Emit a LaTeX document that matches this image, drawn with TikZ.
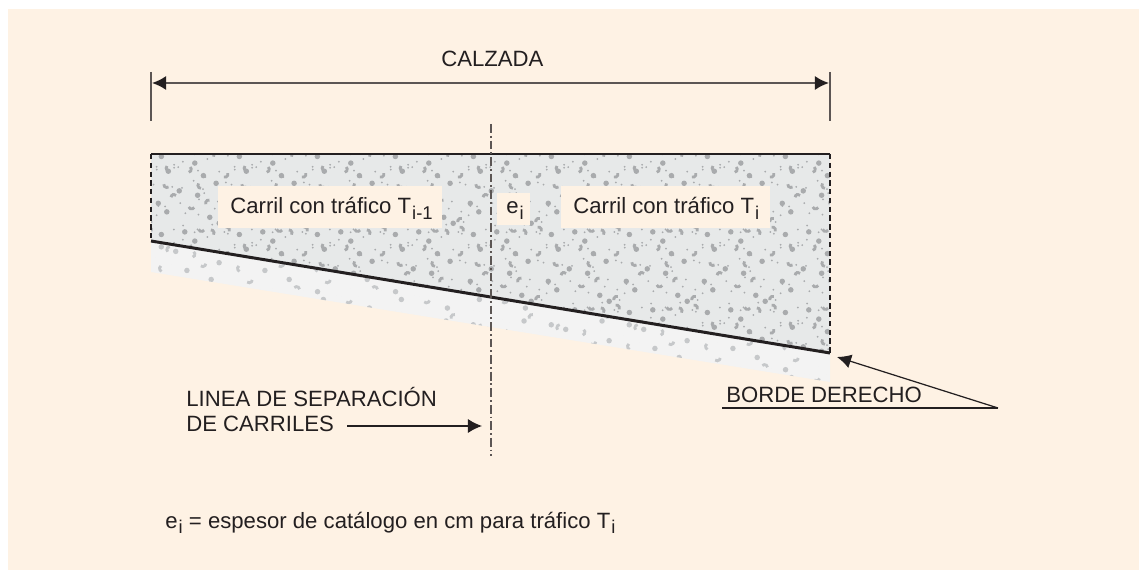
\documentclass[tikz,border=0pt]{standalone}
\usepackage{fontspec}
\setmainfont{Liberation Sans}
\usepackage{tikz}
\usetikzlibrary{arrows.meta}
\usetikzlibrary{positioning}

\definecolor{paper}{HTML}{FEF2E4}
\definecolor{ink}{HTML}{231F20}
\definecolor{dimline}{HTML}{5C5654}
\definecolor{baselayer}{HTML}{E7E9E9}
\definecolor{sublayer}{HTML}{F3F3F3}
\definecolor{stone}{HTML}{A9ABAD}
\definecolor{substone}{HTML}{C6C8CA}

\tikzset{
	label/.style={anchor=base west,inner sep=0pt,text=ink,font=\fontsize{12.6}{14}\selectfont},
	patch/.style={fill=paper,draw=none},
	sideline/.style={draw=ink,densely dashed,line width=0.6pt},
	thickline/.style={draw=ink,line width=1.7pt},
	dimstroke/.style={draw=dimline,line width=1.1pt}
}

% subscript of the labels
\newcommand{\lowsub}[1]{\kern0.6pt\raisebox{-3pt}{\fontsize{10.5}{10}\selectfont #1}}

% one tile of stones: #1 colour, #2 cell size, #3 last cell, #4 radius of small dots
\newcommand{\stonetile}[4]{
	\foreach \i in {0,...,#3}
	{
		\foreach \j in {0,...,#3}
		{
			\pgfmathsetmacro{\px}{(\i+rnd)*#2}
			\pgfmathsetmacro{\py}{(\j+rnd)*#2}
			\pgfmathsetmacro{\pa}{rnd*360}
			\pgfmathtruncatemacro{\kind}{mod(\i+2*\j,3)}
			\ifnum\kind=0
				\fill[#1] (\px,\py) circle [radius=0.055cm];
			\fi
			\ifnum\kind=1
				\draw[#1,line width=1.6pt] (\px,\py) arc [start angle=\pa,delta angle=130,radius=0.06cm];
			\fi
			\pgfmathsetmacro{\px}{(\i+rnd)*#2}
			\pgfmathsetmacro{\py}{(\j+rnd)*#2}
			\fill[#1] (\px,\py) circle [radius=#4];
		}
	}
}

\begin{document}
\begin{tikzpicture}[x=0.02cm,y=-0.02cm,every path/.style={>={Latex[length=8pt,width=8pt,color=ink]}}]
	\useasboundingbox (0,0) rectangle (1139,570);
	
	% draw background
	\fill[paper] (8,9) rectangle (1139,570);
	
	% draw lower layer
	\fill[sublayer] (151,241) -- (830,353) -- (830,382) -- (151,272) -- cycle;
	\begin{scope}
		\clip (151,241) -- (830,353) -- (830,382) -- (151,272) -- cycle;
		\foreach \x in {151,229,...,830}
		{
			\foreach \y in {232,310,388}
			{
				\begin{scope}[shift={(\x,\y)}]
					\pgfmathsetseed{11}
					\stonetile{substone}{15.6}{4}{0cm}
				\end{scope}
			}
		}
	\end{scope}
	
	% draw upper layer
	\fill[baselayer] (151,154) -- (830,154) -- (830,353) -- (151,241) -- cycle;
	\begin{scope}
		\clip (151,154) -- (830,154) -- (830,353) -- (151,241) -- cycle;
		\foreach \x in {151,229,...,830}
		{
			\foreach \y in {154,232,310}
			{
				\begin{scope}[shift={(\x,\y)}]
					\pgfmathsetseed{27}
					\stonetile{stone}{13}{5}{0.02cm}
				\end{scope}
			}
		}
	\end{scope}
	
	% corners of the road
	\coordinate (topleft) at (151,154);
	\coordinate (topright) at (830,154);
	\coordinate (lowleft) at (151,241);
	\coordinate (lowright) at (830,353);
	
	% draw edges
	\draw[sideline] (topleft) -- (lowleft);
	\draw[sideline] (topright) -- (lowright);
	\draw[thickline] (topleft) -- (topright);
	\draw[thickline] (lowleft) -- (lowright);
	
	% draw white patches with labels
	\node (patchleft) at (330,207) [patch,minimum width=4.48cm,minimum height=0.84cm] {};
	\node (patchmid) at (513.5,209) [patch,minimum width=0.66cm,minimum height=0.64cm] {};
	\node (patchright) at (665.5,207) [patch,minimum width=4.18cm,minimum height=0.84cm] {};
	\node (carrilleft) at (230,214) [label] {Carril con tráfico T\lowsub{i-1}};
	\node (espesor) at (506,214) [label] {e\lowsub{i}};
	\node (carrilright) at (573,214) [label] {Carril con tráfico T\lowsub{i}};
	
	% draw center line
	\coordinate (centertop) at (491,124);
	\coordinate (centerbottom) at (491,456);
	\draw[dimline,line width=0.7pt,dash pattern=on 5pt off 1.7pt on 1pt off 1.7pt] (centertop) -- (centerbottom);
	
	% draw width of the road
	\coordinate (tickleftup) at (151,72);
	\coordinate (tickleftdown) at (151,121);
	\coordinate (tickrightup) at (830,72);
	\coordinate (tickrightdown) at (830,121);
	\coordinate (dimleft) at (152,83);
	\coordinate (dimright) at (829,83);
	\draw[dimstroke] (tickleftup) -- (tickleftdown);
	\draw[dimstroke] (tickrightup) -- (tickrightdown);
	\draw[<->,dimstroke] (dimleft) -- (dimright);
	\node (calzada) at (441,67) [label] {CALZADA};
	
	% draw separation label
	\node (linea) at (186,407) [label] {LINEA DE SEPARACIÓN};
	\node (carriles) at (186,432) [label] {DE CARRILES};
	\coordinate (sepstart) at (347,426);
	\coordinate (septip) at (482,426);
	\draw[->,ink,line width=0.7pt] (sepstart) -- (septip);
	
	% draw right border label
	\node (borde) at (726,403) [label] {BORDE DERECHO};
	\coordinate (bordestart) at (722,408);
	\coordinate (bordecorner) at (998,408);
	\coordinate (bordetip) at (837,357);
	\draw[ink,line width=0.7pt] (bordestart) -- (bordecorner);
	\draw[->,ink,line width=0.7pt] (bordecorner) -- (bordetip);
	
	% draw legend
	\node (legend) at (165,528) [label] {e\lowsub{i} = espesor de catálogo en cm para tráfico T\lowsub{i}};
\end{tikzpicture}
\end{document}
